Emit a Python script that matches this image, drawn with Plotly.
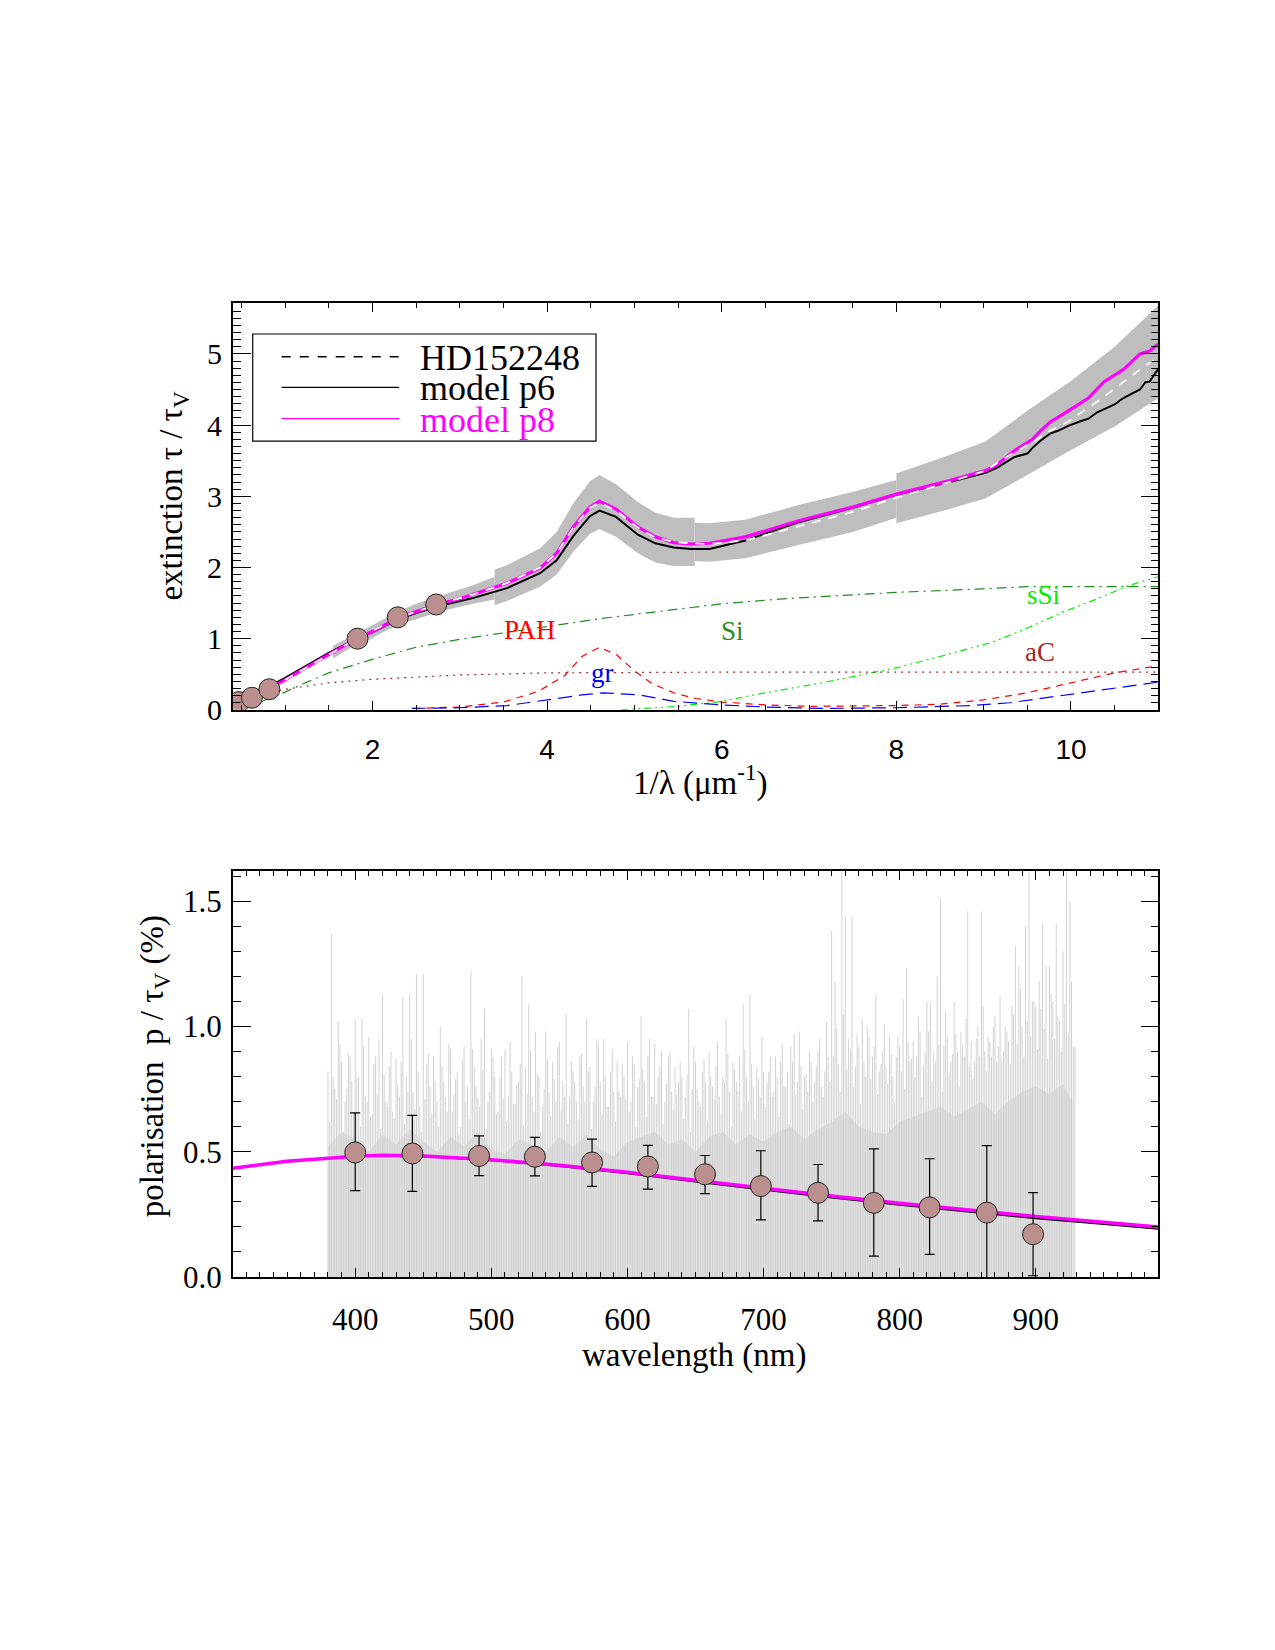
import plotly.graph_objects as go

W, H = 1275, 1650
def px(v): return v / W
def py(v): return 1 - v / H

SERIF = "Liberation Serif, Times New Roman, serif"
SANS = "Liberation Sans, Arial, sans-serif"

# ---------------- top panel data ----------------
phot_x = [0.47, 0.62, 0.82, 1.83, 2.29, 2.73]
phot_y = [0.11, 0.17, 0.29, 1.00, 1.30, 1.48]

p8_x = [0.4, 0.6, 0.8, 1.0, 1.25, 1.5, 1.82, 2.0, 2.29, 2.5, 2.74, 3.0, 3.15, 3.54, 3.92, 4.11, 4.3, 4.49, 4.6,
        4.79, 5.04, 5.24, 5.45, 5.65, 5.86, 6.27, 6.89, 7.5, 8.0, 8.61, 9.02, 9.15, 9.35, 9.56, 9.65, 9.76, 9.97,
        10.2, 10.38, 10.6, 10.79, 10.9, 11.0]
p8_y = [0.05, 0.16, 0.29, 0.42, 0.60, 0.78, 1.00, 1.10, 1.29, 1.38, 1.48, 1.56, 1.62, 1.78, 1.99, 2.20, 2.57, 2.85, 2.93,
        2.82, 2.57, 2.43, 2.35, 2.33, 2.34, 2.43, 2.66, 2.85, 3.03, 3.22, 3.36, 3.44, 3.64, 3.80, 3.92, 4.04, 4.20,
        4.38, 4.61, 4.78, 5.00, 5.04, 5.14]

p6_x = [0.4, 0.6, 0.8, 1.0, 1.25, 1.5, 1.82, 2.0, 2.29, 2.5, 2.74, 3.0, 3.15, 3.54, 3.92, 4.11, 4.3, 4.49, 4.6,
        4.79, 5.04, 5.24, 5.45, 5.65, 5.86, 6.27, 6.89, 7.5, 8.0, 8.61, 9.02, 9.15, 9.35, 9.5, 9.56, 9.65, 9.76,
        9.85, 9.97, 10.1, 10.2, 10.3, 10.38, 10.5, 10.6, 10.7, 10.79, 10.85, 10.9, 11.0]
p6_y = [0.07, 0.19, 0.32, 0.45, 0.63, 0.80, 1.00, 1.09, 1.27, 1.36, 1.45, 1.52, 1.57, 1.71, 1.92, 2.10, 2.44, 2.72, 2.80,
        2.71, 2.46, 2.34, 2.28, 2.26, 2.26, 2.38, 2.64, 2.84, 3.02, 3.20, 3.33, 3.40, 3.55, 3.60, 3.68, 3.78, 3.88,
        3.92, 3.99, 4.05, 4.09, 4.18, 4.22, 4.29, 4.38, 4.44, 4.50, 4.60, 4.61, 4.79]

obs_x = [1.0, 1.5, 1.82, 2.29, 2.74, 3.15, 3.54, 3.92, 4.11, 4.3, 4.49, 4.6, 4.79, 5.04, 5.24, 5.45, 5.65, 5.86,
         6.27, 6.89, 7.5, 8.0, 8.61, 9.02, 9.35, 9.56, 9.76, 9.97, 10.38, 10.79, 11.0]
obs_y = [0.42, 0.78, 1.00, 1.29, 1.48, 1.62, 1.78, 2.00, 2.20, 2.56, 2.84, 2.91, 2.80, 2.56, 2.42, 2.36, 2.34, 2.33,
         2.38, 2.58, 2.78, 2.98, 3.20, 3.36, 3.62, 3.76, 3.92, 4.05, 4.40, 4.78, 4.96]

# uncertainty band, four data segments
bandA_x = [1.55, 1.82, 2.0, 2.29, 2.5, 2.74, 3.0, 3.15, 3.4]
bandA_hi = [0.90, 1.08, 1.19, 1.38, 1.49, 1.59, 1.69, 1.75, 1.87]
bandA_lo = [0.72, 0.92, 1.01, 1.20, 1.27, 1.37, 1.45, 1.49, 1.55]
bandB_x = [3.4, 3.54, 3.92, 4.11, 4.3, 4.49, 4.6, 4.79, 5.04, 5.24, 5.45, 5.69]
bandB_hi = [1.97, 2.03, 2.27, 2.50, 2.90, 3.21, 3.30, 3.17, 2.92, 2.77, 2.70, 2.70]
bandB_lo = [1.47, 1.53, 1.73, 1.90, 2.22, 2.47, 2.54, 2.43, 2.20, 2.07, 2.02, 2.02]
bandC_x = [5.69, 5.86, 6.27, 6.89, 7.5, 8.0]
bandC_hi = [2.63, 2.62, 2.67, 2.88, 3.06, 3.23]
bandC_lo = [2.09, 2.08, 2.13, 2.32, 2.50, 2.70]
bandD_x = [8.0, 8.61, 9.02, 9.5, 10.0, 10.5, 11.0]
bandD_hi = [3.32, 3.58, 3.77, 4.20, 4.62, 5.10, 5.68]
bandD_lo = [2.62, 2.82, 2.97, 3.30, 3.65, 3.98, 4.38]

si_x = [0.5, 0.6, 0.87, 1.0, 1.25, 1.5, 2.0, 2.5, 3.0, 3.5, 4.0, 4.6, 5.0, 5.5, 6.0, 6.7, 7.5, 8.0, 9.0, 9.5, 10.0, 11.0]
si_y = [0.0, 0.05, 0.18, 0.25, 0.39, 0.52, 0.71, 0.88, 0.99, 1.08, 1.17, 1.28, 1.34, 1.42, 1.49, 1.56, 1.61, 1.65, 1.70, 1.73, 1.73, 1.73]

ssi_x = [4.85, 5.5, 6.0, 6.5, 7.15, 8.0, 8.5, 9.1, 9.52, 9.9, 10.3, 10.67, 11.0]
ssi_y = [0.0, 0.05, 0.12, 0.24, 0.38, 0.59, 0.75, 0.95, 1.16, 1.37, 1.56, 1.75, 1.87]

ac_x = [0.7, 0.8, 1.0, 1.5, 2.0, 3.0, 4.0, 5.0, 6.0, 8.0, 10.0, 11.0]
ac_y = [0.19, 0.23, 0.29, 0.38, 0.43, 0.49, 0.52, 0.53, 0.53, 0.53, 0.53, 0.53]

pah_x = [2.47, 3.0, 3.5, 3.9, 4.2, 4.4, 4.6, 4.8, 5.0, 5.2, 5.45, 5.7, 6.0, 6.5, 7.0, 7.5, 8.0, 8.5, 9.0, 9.5, 10.0, 10.5, 11.0]
pah_y = [0.02, 0.04, 0.11, 0.26, 0.48, 0.75, 0.88, 0.77, 0.55, 0.37, 0.24, 0.16, 0.11, 0.07, 0.05, 0.05, 0.06, 0.08, 0.14, 0.24, 0.38, 0.52, 0.62]

gr_x = [2.45, 3.0, 3.54, 4.11, 4.4, 4.65, 5.06, 5.45, 6.0, 6.5, 7.15, 8.0, 8.85, 9.3, 9.7, 10.1, 10.54, 11.0]
gr_y = [0.02, 0.03, 0.06, 0.16, 0.21, 0.24, 0.21, 0.12, 0.07, 0.04, 0.02, 0.03, 0.06, 0.10, 0.17, 0.23, 0.31, 0.39]

comp_labels = ["PAH", "Si", "sSi", "aC", "gr"]
comp_label_x = [3.80, 6.12, 9.68, 9.65, 4.63]
comp_label_y = [1.12, 1.11, 1.62, 0.81, 0.52]
comp_colors = ["#ff0000", "#228b22", "#00ee00", "#a52a2a", "#0000ff"]

# ---------------- bottom panel data ----------------
pol_wl = [400, 442, 491, 532, 574, 615, 657, 698, 740, 781, 822, 864, 898]
pol_val = [0.497, 0.493, 0.483, 0.480, 0.457, 0.441, 0.410, 0.363, 0.336, 0.296, 0.278, 0.257, 0.171]
pol_hi = [0.655, 0.645, 0.563, 0.557, 0.550, 0.525, 0.485, 0.504, 0.449, 0.511, 0.472, 0.524, 0.337]
pol_lo = [0.345, 0.342, 0.405, 0.404, 0.362, 0.351, 0.333, 0.228, 0.224, 0.083, 0.090, -0.02, 0.005]

mod_wl = [310, 350, 400, 420, 450, 500, 550, 600, 650, 700, 750, 800, 850, 900, 950, 990]
p8_pol = [0.434, 0.462, 0.482, 0.486, 0.483, 0.468, 0.446, 0.418, 0.386, 0.354, 0.323, 0.294, 0.267, 0.242, 0.219, 0.200]
p6_pol = [0.434, 0.462, 0.482, 0.486, 0.482, 0.466, 0.443, 0.414, 0.381, 0.348, 0.317, 0.288, 0.260, 0.235, 0.212, 0.193]

# noisy observed polarisation spectrum: spike tops every 2.5 nm from 380 nm
noise_top = [
    0.82, 1.37, 0.75, 1.02, 0.86, 0.70, 0.89, 0.78, 1.03, 0.80, 1.03, 0.72, 0.96, 0.65, 0.88, 0.95,
    1.13, 0.70, 0.84, 0.66, 0.87, 0.72, 1.12, 0.80, 1.13, 0.74, 1.21, 0.68, 1.21, 0.85, 0.76, 0.88,
    0.70, 1.00, 0.78, 0.66, 0.91, 0.73, 0.82, 0.60, 0.92, 0.76, 1.22, 0.84, 0.72, 0.95, 1.07, 0.70,
    0.91, 0.80, 0.66, 0.88, 0.91, 0.72, 0.82, 0.69, 0.78, 1.20, 0.84, 1.09, 0.72, 0.98, 0.80, 0.68,
    0.98, 0.74, 0.86, 0.70, 0.94, 0.78, 1.05, 0.72, 0.82, 0.70, 0.88, 0.76, 1.03, 0.84, 0.70, 0.95,
    0.78, 0.95, 0.68, 0.82, 0.74, 0.86, 0.72, 0.80, 0.94, 0.70, 0.85, 0.76, 1.04, 0.78, 0.88, 0.72,
    0.93, 0.80, 0.90, 0.70, 0.88, 0.74, 0.84, 0.78, 0.80, 0.72, 1.07, 0.75, 0.86, 0.70, 0.82, 0.78,
    0.90, 0.76, 0.84, 0.72, 0.80, 1.03, 0.74, 0.86, 0.78, 0.88, 1.09, 0.80, 1.13, 0.76, 0.84, 0.72,
    0.82, 0.78, 0.88, 0.74, 0.80, 0.86, 0.76, 0.82, 0.92, 0.97, 0.78, 0.84, 0.80, 0.74, 0.86, 0.78,
    0.90, 0.76, 0.82, 0.88, 1.38, 1.18, 0.85, 1.70, 1.44, 0.95, 1.44, 0.84, 0.92, 1.03, 0.80, 0.96,
    0.88, 1.13, 0.82, 0.90, 0.84, 0.96, 0.80, 0.88, 0.92, 1.11, 1.23, 0.86, 0.94, 0.88, 0.98, 0.84,
    1.10, 1.10, 0.90, 1.20, 1.51, 0.92, 0.96, 0.86, 1.10, 0.90, 0.98, 0.88, 1.46, 0.94, 0.86, 1.00,
    1.46, 0.90, 0.96, 0.88, 1.04, 0.92, 0.86, 1.00, 0.94, 1.08, 1.32, 1.24, 1.00, 1.40, 1.70, 1.10,
    1.08, 1.18, 1.41, 1.24, 1.24, 1.10, 1.41, 1.02, 1.30, 1.70, 1.50, 0.92,
]
noise_wl = [380 + 2.5 * i for i in range(len(noise_top))]

# second (interleaved) set of moderate noise peaks, offset by 1.25 nm
noise_mid = [
    0.62, 0.80, 0.71, 0.93, 0.58, 0.75, 0.88, 0.66, 0.79, 0.60, 0.92, 0.70, 0.64, 0.85, 0.73, 0.59,
    0.81, 0.68, 0.90, 0.63, 0.77, 0.86, 0.61, 0.74, 0.95, 0.67, 0.82, 0.58, 0.71, 0.89, 0.65, 0.78,
    0.60, 0.84, 0.72, 0.93, 0.66, 0.79, 0.57, 0.87, 0.70, 0.63, 0.91, 0.76, 0.68, 0.83, 0.59, 0.74,
    0.88, 0.65, 0.80, 0.71, 0.62, 0.94, 0.69, 0.77, 0.85, 0.60, 0.73, 0.90, 0.66, 0.81, 0.58, 0.75,
    0.87, 0.64, 0.79, 0.92, 0.67, 0.72, 0.61, 0.86, 0.78, 0.63, 0.89, 0.70, 0.82, 0.59, 0.76, 0.93,
    0.65, 0.80, 0.68, 0.91, 0.62, 0.74, 0.85, 0.71, 0.66, 0.88, 0.60, 0.79, 0.83, 0.64, 0.95, 0.72,
    0.69, 0.84, 0.61, 0.77, 0.90, 0.67, 0.73, 0.86, 0.63, 0.81, 0.58, 0.92, 0.75, 0.68, 0.87, 0.62,
    0.80, 0.71, 0.94, 0.65, 0.78, 0.89, 0.60, 0.83, 0.74, 0.66, 0.91, 0.70, 0.85, 0.63, 0.79, 0.96,
    0.68, 0.82, 0.72, 0.88, 0.64, 0.93, 0.76, 0.61, 0.86, 0.73, 0.98, 0.67, 0.81, 0.90, 0.70, 0.84,
    0.95, 0.72, 1.02, 0.78, 0.88, 0.99, 0.74, 1.05, 0.83, 0.91, 0.76, 0.97, 0.69, 0.86, 1.00, 0.79,
    0.92, 0.73, 0.85, 1.01, 0.77, 0.89, 0.70, 0.96, 0.82, 0.75, 0.94, 0.87, 0.80, 1.04, 0.72, 0.90,
    0.98, 0.78, 0.86, 0.93, 0.74, 1.06, 0.81, 0.89, 0.97, 0.76, 0.92, 1.03, 0.84, 0.79, 0.95, 0.88,
    1.08, 0.82, 0.94, 1.00, 0.86, 1.12, 0.90, 0.98, 0.85, 1.05, 0.93, 1.15, 0.88, 1.02, 0.96, 1.10,
    0.91, 1.07, 0.99, 0.87, 1.13, 0.95, 1.04, 0.90, 1.09, 0.97, 1.18, 0.92,
]
noise_mid_wl = [381.25 + 2.5 * i for i in range(len(noise_mid))]

core_wl = [380, 390, 400, 410, 420, 430, 440, 450, 460, 470, 480, 490, 500, 510, 520, 530, 540, 550, 560,
           570, 580, 590, 600, 610, 620, 630, 640, 650, 660, 670, 680, 690, 700, 710, 720, 730, 740, 750,
           760, 770, 780, 790, 800, 810, 820, 830, 840, 850, 860, 870, 880, 890, 900, 910, 920, 927]
core_hi = [0.52, 0.58, 0.55, 0.50, 0.57, 0.53, 0.59, 0.54, 0.50, 0.56, 0.52, 0.58, 0.51, 0.49, 0.55, 0.53,
           0.50, 0.56, 0.52, 0.57, 0.51, 0.48, 0.54, 0.56, 0.58, 0.53, 0.55, 0.50, 0.56, 0.58, 0.53, 0.57,
           0.54, 0.58, 0.60, 0.55, 0.59, 0.62, 0.66, 0.60, 0.58, 0.57, 0.62, 0.64, 0.66, 0.68, 0.64, 0.67,
           0.70, 0.65, 0.70, 0.74, 0.76, 0.73, 0.77, 0.70]

fig = go.Figure()

# ---- top panel traces ----
for bx, bhi, blo in [(bandA_x, bandA_hi, bandA_lo), (bandB_x, bandB_hi, bandB_lo),
                     (bandC_x, bandC_hi, bandC_lo), (bandD_x, bandD_hi, bandD_lo)]:
    fig.add_trace(go.Scatter(x=bx + bx[::-1], y=bhi + blo[::-1], fill="toself", fillcolor="#bebebe",
                             line=dict(width=0, color="#bebebe"), mode="lines", hoverinfo="skip",
                             showlegend=False, xaxis="x", yaxis="y"))

comp_series = [(pah_x, pah_y, "#ff0000", "7px,6px"),
               (si_x, si_y, "#228b22", "10px,5px,2px,5px"),
               (ssi_x, ssi_y, "#00ee00", "7px,4px,2px,4px,2px,4px"),
               (ac_x, ac_y, "#a52a2a", "2px,5px"),
               (gr_x, gr_y, "#0000ff", "14px,7px")]
for cx, cy, col, dash in comp_series:
    fig.add_trace(go.Scatter(x=cx, y=cy, mode="lines", line=dict(color=col, width=1.2, dash=dash),
                             showlegend=False, xaxis="x", yaxis="y"))

fig.add_trace(go.Scatter(x=p6_x, y=p6_y, mode="lines", line=dict(color="black", width=2),
                         showlegend=False, xaxis="x", yaxis="y"))
fig.add_trace(go.Scatter(x=p8_x, y=p8_y, mode="lines", line=dict(color="#ff00ff", width=3.2),
                         showlegend=False, xaxis="x", yaxis="y"))
fig.add_trace(go.Scatter(x=obs_x, y=obs_y, mode="lines", line=dict(color="white", width=1.8, dash="9px,8px"),
                         showlegend=False, xaxis="x", yaxis="y"))
fig.add_trace(go.Scatter(x=phot_x, y=phot_y, mode="markers",
                         marker=dict(size=21, color="#bc8f8f", line=dict(color="#222222", width=1)),
                         showlegend=False, xaxis="x", yaxis="y"))

# ---- bottom panel traces ----
fig.add_trace(go.Scatter(x=core_wl, y=core_hi, mode="lines", fill="tozeroy", fillcolor="#e3e3e3",
                         line=dict(width=0, color="#e3e3e3"), showlegend=False, xaxis="x2", yaxis="y2"))
for wls, tops in [(noise_mid_wl, noise_mid), (noise_wl, noise_top)]:
    tx, ty = [], []
    for w, t in zip(wls, tops):
        tx += [w, w, None]
        ty += [0, t, None]
    fig.add_trace(go.Scatter(x=tx, y=ty, mode="lines", line=dict(color="#d2d2d2", width=1),
                             showlegend=False, xaxis="x2", yaxis="y2"))
fig.add_trace(go.Scatter(x=mod_wl, y=p6_pol, mode="lines", line=dict(color="black", width=2),
                         showlegend=False, xaxis="x2", yaxis="y2"))
fig.add_trace(go.Scatter(x=mod_wl, y=p8_pol, mode="lines", line=dict(color="#ff00ff", width=3.5),
                         showlegend=False, xaxis="x2", yaxis="y2"))
fig.add_trace(go.Scatter(
    x=pol_wl, y=pol_val, mode="markers",
    marker=dict(size=21, color="#bc8f8f", line=dict(color="#222222", width=1)),
    error_y=dict(type="data", symmetric=False,
                 array=[h - v for h, v in zip(pol_hi, pol_val)],
                 arrayminus=[v - l for v, l in zip(pol_val, pol_lo)],
                 color="black", thickness=1.2, width=5),
    showlegend=False, xaxis="x2", yaxis="y2"))

axis_common = dict(showline=True, linecolor="black", linewidth=1.6, mirror="ticks", ticks="inside",
                   tickcolor="black", tickwidth=1.3, showgrid=False, zeroline=False)

fig.update_layout(
    width=W, height=H, margin=dict(l=0, r=0, t=0, b=0),
    paper_bgcolor="white", plot_bgcolor="white", showlegend=False,
    xaxis=dict(domain=[px(232.7), px(1158.3)], anchor="y", range=[0.4, 11.0], tickvals=[2, 4, 6, 8, 10],
               ticklen=9, minor=dict(dtick=0.5, tick0=0, ticklen=5, ticks="inside", tickcolor="black", tickwidth=1.1),
               tickfont=dict(family=SANS, size=28, color="black"), ticklabelstandoff=14, **axis_common),
    yaxis=dict(domain=[py(717.7), py(306.7)], anchor="x", range=[0, 5.71], tickvals=[0, 1, 2, 3, 4, 5],
               ticklen=18, minor=dict(dtick=0.1, tick0=0, ticklen=8, ticks="inside", tickcolor="black", tickwidth=1.1),
               tickfont=dict(family=SERIF, size=30, color="black"), ticklabelstandoff=3, **axis_common),
    xaxis2=dict(domain=[px(232.7), px(1158.3)], anchor="y2", range=[310, 990],
                tickvals=[400, 500, 600, 700, 800, 900], ticklen=9,
                minor=dict(dtick=10, tick0=0, ticklen=5, ticks="inside", tickcolor="black", tickwidth=1.1),
                tickfont=dict(family=SERIF, size=31, color="black"), ticklabelstandoff=14, **axis_common),
    yaxis2=dict(domain=[py(1291.1), py(880.7)], anchor="x2", range=[0, 1.62],
                tickvals=[0, 0.5, 1.0, 1.5], ticktext=["0.0", "0.5", "1.0", "1.5"], ticklen=18,
                minor=dict(dtick=0.1, tick0=0, ticklen=8, ticks="inside", tickcolor="black", tickwidth=1.1),
                tickfont=dict(family=SERIF, size=31, color="black"), ticklabelstandoff=3, **axis_common),
)

ann = []
tfont = dict(family=SERIF, size=33, color="black")
ann.append(dict(text="extinction τ / τ<sub>V</sub>", x=px(174), y=py(502), xref="paper", yref="paper",
                textangle=-90, showarrow=False, font=tfont, xanchor="center", yanchor="middle"))
ann.append(dict(text="polarisation\u00a0\u00a0p / τ<sub>V</sub> (%)", x=px(154), y=py(1078), xref="paper",
                yref="paper", textangle=-90, showarrow=False, font=tfont, xanchor="center", yanchor="middle"))
ann.append(dict(text="1/λ (μm<sup>-1</sup>)", x=px(700), y=py(789), xref="paper", yref="paper",
                showarrow=False, font=tfont, xanchor="center", yanchor="middle"))
ann.append(dict(text="wavelength (nm)", x=px(694), y=py(1370), xref="paper", yref="paper",
                showarrow=False, font=tfont, xanchor="center", yanchor="middle"))
for lab, lx, ly, col in zip(comp_labels, comp_label_x, comp_label_y, comp_colors):
    ann.append(dict(text=lab, x=lx, y=ly, xref="x", yref="y", showarrow=False,
                    font=dict(family=SERIF, size=27, color=col), xanchor="center", yanchor="middle"))

# legend (drawn by hand)
leg_names = ["HD152248", "model p6", "model p8"]
leg_colors = ["black", "black", "#ff00ff"]
leg_dash = ["9px,9px", "solid", "solid"]
leg_rows = [360.7, 391.7, 423.3]
shapes = [dict(type="rect", xref="paper", yref="paper", x0=px(252.7), x1=px(596), y0=py(446), y1=py(337.7),
               line=dict(color="black", width=1.2), fillcolor="white", layer="above")]
for name, col, dsh, ry in zip(leg_names, leg_colors, leg_dash, leg_rows):
    shapes.append(dict(type="line", xref="paper", yref="paper", x0=px(281.7), x1=px(399), y0=py(ry), y1=py(ry),
                       line=dict(color=col, width=1.3, dash=dsh), layer="above"))
    ann.append(dict(text=name, x=px(418), y=py(ry + 1), xref="paper", yref="paper", showarrow=False,
                    font=dict(family=SERIF, size=36, color=col), xanchor="left", yanchor="middle"))

fig.update_layout(annotations=ann, shapes=shapes)
fig.write_html("out.html")
